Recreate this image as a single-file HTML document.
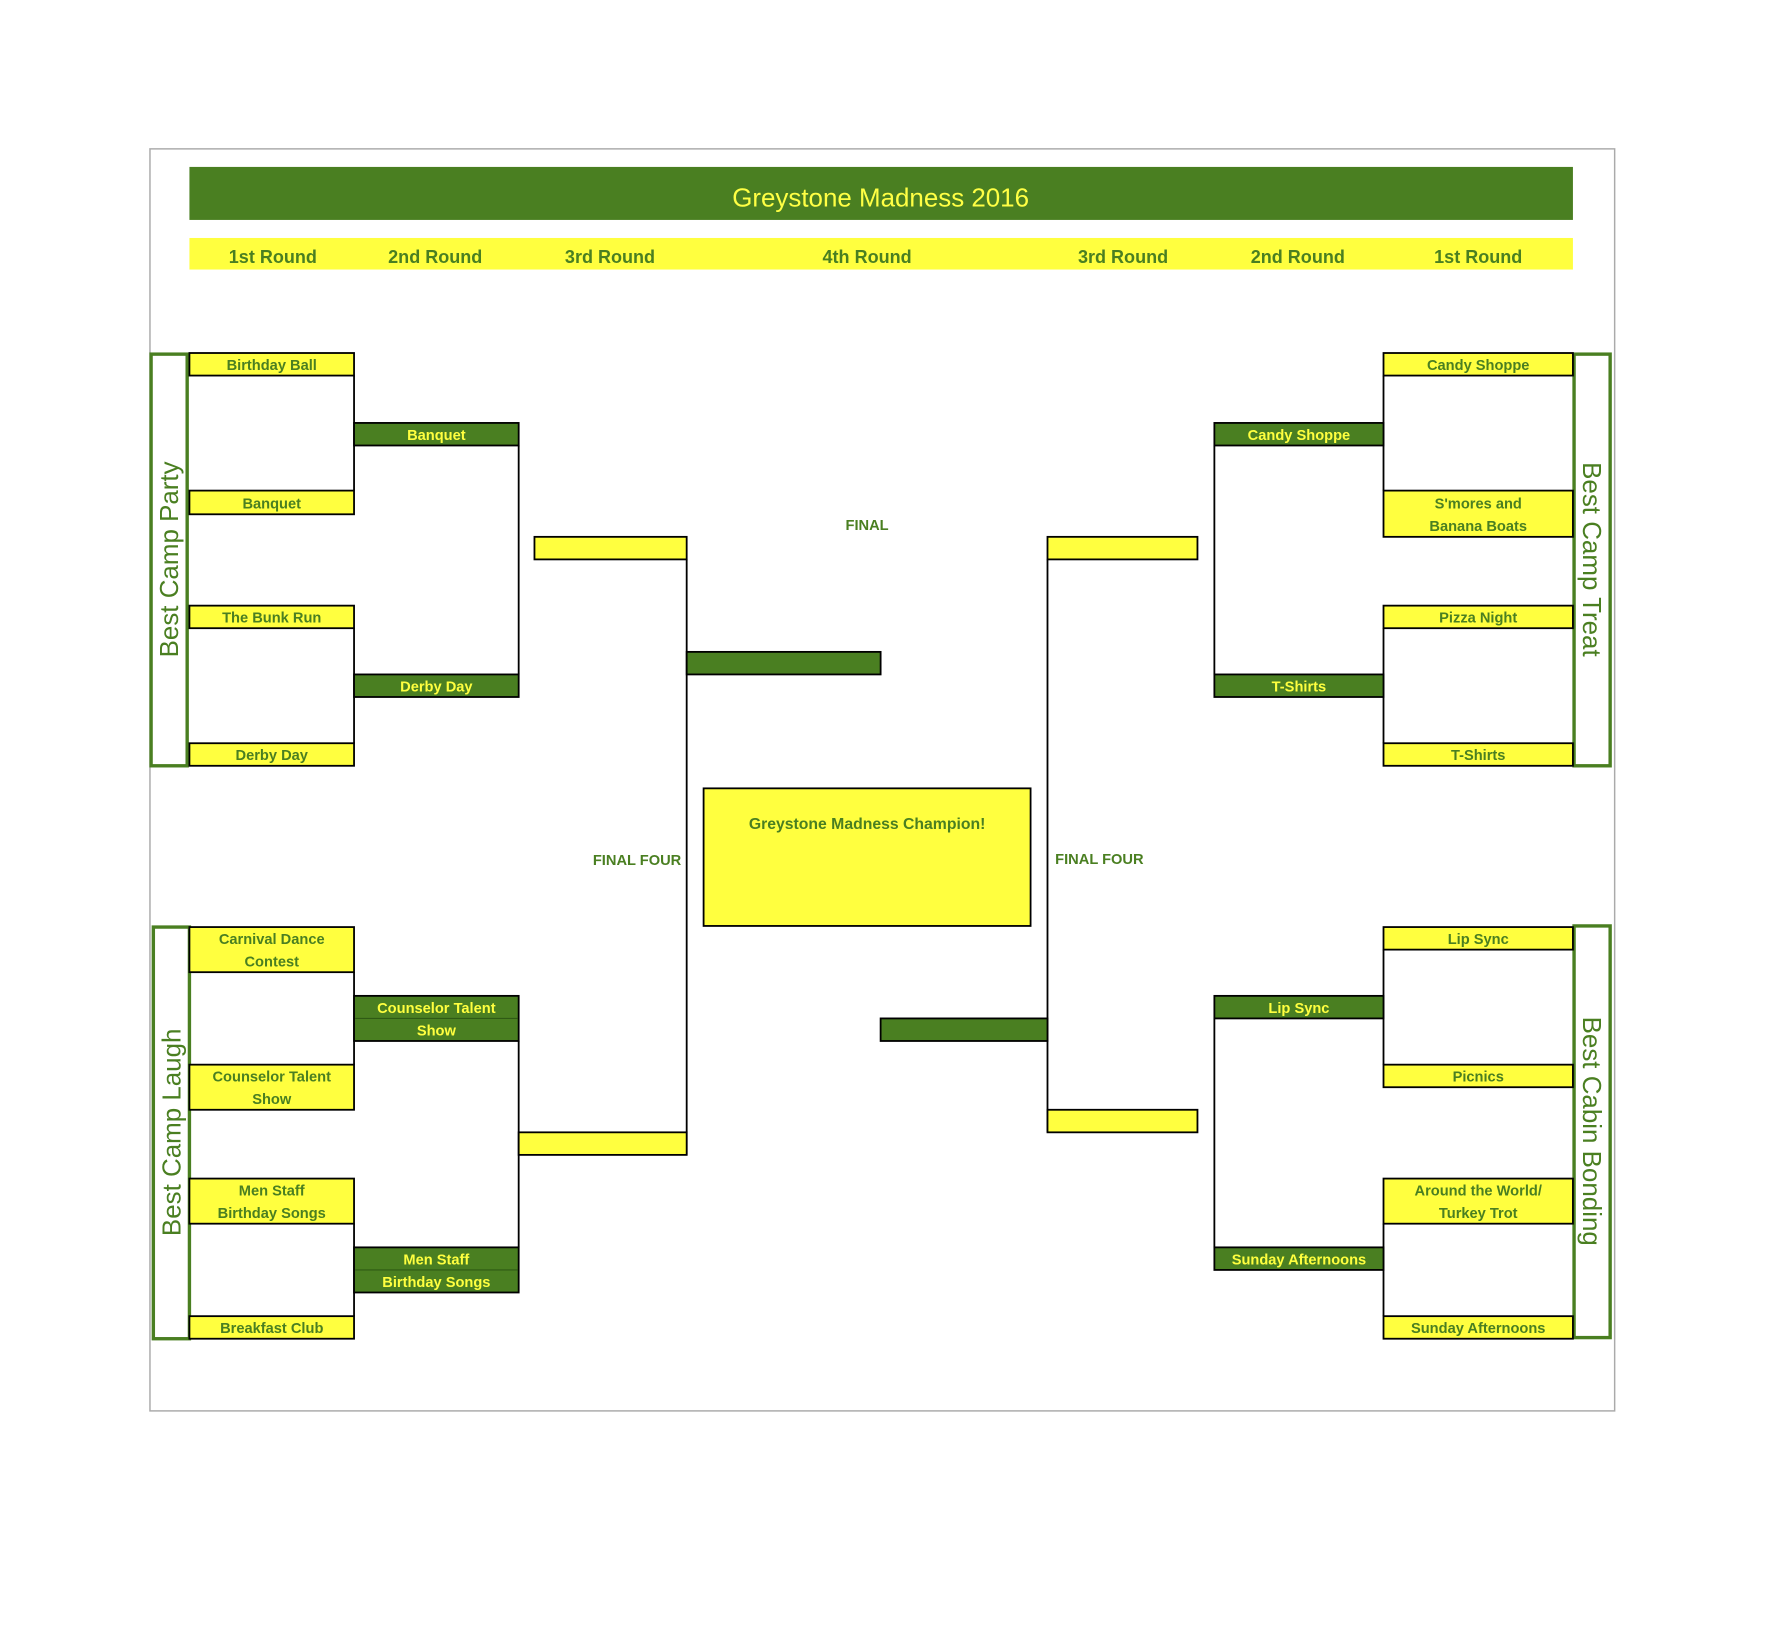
<!DOCTYPE html>
<html><head><meta charset="utf-8"><style>html,body{margin:0;padding:0;background:#fff}svg{display:block}</style></head>
<body>
<svg width="1768" height="1650" viewBox="0 0 1568 1463" preserveAspectRatio="none" xmlns="http://www.w3.org/2000/svg" font-family="Liberation Sans, sans-serif">
<rect x="133" y="132" width="1299" height="1119" fill="#fff" stroke="#aaa" stroke-width="1.3"/>
<rect x="168" y="148" width="1227" height="47" fill="#4a7f21"/>
<text x="781" y="183" font-size="23" fill="#ffff44" text-anchor="middle">Greystone Madness 2016</text>
<rect x="168" y="211" width="1227" height="28" fill="#ffff3f"/>
<g font-size="16" font-weight="bold" fill="#4a7f21" text-anchor="middle">
<text x="242" y="233">1st Round</text><text x="386" y="233">2nd Round</text><text x="541" y="233">3rd Round</text><text x="769" y="233">4th Round</text><text x="996" y="233">3rd Round</text><text x="1151" y="233">2nd Round</text><text x="1311" y="233">1st Round</text>
</g>
<g stroke="#000" stroke-width="1.6" fill="none">
<path d="M314 333V435M314 557V659M460 395V598M314 862V944M314 1085V1167M460 923V1106M609 496V1024"/>
<path d="M1227 333V435M1227 557V659M1077 395V598M1227 842V944M1227 1085V1167M1077 903V1106M929 496V1004"/>
</g>
<g fill="#fff" stroke="#4a7f21" stroke-width="3">
<rect x="134" y="314" width="32" height="365"/>
<rect x="136" y="822" width="32" height="365"/>
<rect x="1396" y="314" width="32" height="365"/>
<rect x="1396" y="821" width="32" height="365"/>
</g>
<g font-size="23" fill="#4a7f21" text-anchor="middle">
<text transform="translate(158,496) rotate(-90)">Best Camp Party</text>
<text transform="translate(160,1004) rotate(-90)">Best Camp Laugh</text>
<text transform="translate(1404,496) rotate(90)">Best Camp Treat</text>
<text transform="translate(1404,1003) rotate(90)">Best Cabin Bonding</text>
</g>
<g fill="#ffff3f" stroke="#000" stroke-width="1.6">
<rect x="168" y="313" width="146" height="20"/><rect x="168" y="435" width="146" height="21"/><rect x="168" y="537" width="146" height="20"/><rect x="168" y="659" width="146" height="20"/>
<rect x="168" y="822" width="146" height="40"/><rect x="168" y="944" width="146" height="40"/><rect x="168" y="1045" width="146" height="40"/><rect x="168" y="1167" width="146" height="20"/>
<rect x="1227" y="313" width="168" height="20"/><rect x="1227" y="435" width="168" height="41"/><rect x="1227" y="537" width="168" height="20"/><rect x="1227" y="659" width="168" height="20"/>
<rect x="1227" y="822" width="168" height="20"/><rect x="1227" y="944" width="168" height="20"/><rect x="1227" y="1045" width="168" height="40"/><rect x="1227" y="1167" width="168" height="20"/>
<rect x="474" y="476" width="135" height="20"/><rect x="460" y="1004" width="149" height="20"/>
<rect x="929" y="476" width="133" height="20"/><rect x="929" y="984" width="133" height="20"/>
<rect x="624" y="699" width="290" height="122"/>
</g>
<g fill="#4a7f21" stroke="#000" stroke-width="1.6">
<rect x="314" y="375" width="146" height="20"/><rect x="314" y="598" width="146" height="20"/>
<rect x="314" y="883" width="146" height="40"/><rect x="314" y="1106" width="146" height="40"/>
<rect x="1077" y="375" width="150" height="20"/><rect x="1077" y="598" width="150" height="20"/>
<rect x="1077" y="883" width="150" height="20"/><rect x="1077" y="1106" width="150" height="20"/>
<rect x="609" y="578" width="172" height="20"/><rect x="781" y="903" width="148" height="20"/>
</g>
<g stroke="#2f5a14" stroke-width="1"><path d="M315 903H459M315 1126H459"/></g>
<g font-size="13" font-weight="bold" fill="#4a7f21" text-anchor="middle">
<text x="241" y="328">Birthday Ball</text><text x="241" y="451">Banquet</text><text x="241" y="552">The Bunk Run</text><text x="241" y="674">Derby Day</text>
<text x="241" y="837">Carnival Dance</text><text x="241" y="857">Contest</text>
<text x="241" y="959">Counselor Talent</text><text x="241" y="979">Show</text>
<text x="241" y="1060">Men Staff</text><text x="241" y="1080">Birthday Songs</text>
<text x="241" y="1182">Breakfast Club</text>
<text x="1311" y="328">Candy Shoppe</text><text x="1311" y="451">S'mores and</text><text x="1311" y="471">Banana Boats</text><text x="1311" y="552">Pizza Night</text><text x="1311" y="674">T-Shirts</text>
<text x="1311" y="837">Lip Sync</text><text x="1311" y="959">Picnics</text><text x="1311" y="1060">Around the World/</text><text x="1311" y="1080">Turkey Trot</text><text x="1311" y="1182">Sunday Afternoons</text>
<text x="769" y="470">FINAL</text><text x="565" y="767">FINAL FOUR</text><text x="975" y="766">FINAL FOUR</text>
<text x="769" y="735" font-size="14">Greystone Madness Champion!</text>
</g>
<g font-size="13" font-weight="bold" fill="#ffff3f" text-anchor="middle">
<text x="387" y="390">Banquet</text><text x="387" y="613">Derby Day</text>
<text x="387" y="898">Counselor Talent</text><text x="387" y="918">Show</text>
<text x="387" y="1121">Men Staff</text><text x="387" y="1141">Birthday Songs</text>
<text x="1152" y="390">Candy Shoppe</text><text x="1152" y="613">T-Shirts</text>
<text x="1152" y="898">Lip Sync</text><text x="1152" y="1121">Sunday Afternoons</text>
</g>
</svg>
</body></html>
